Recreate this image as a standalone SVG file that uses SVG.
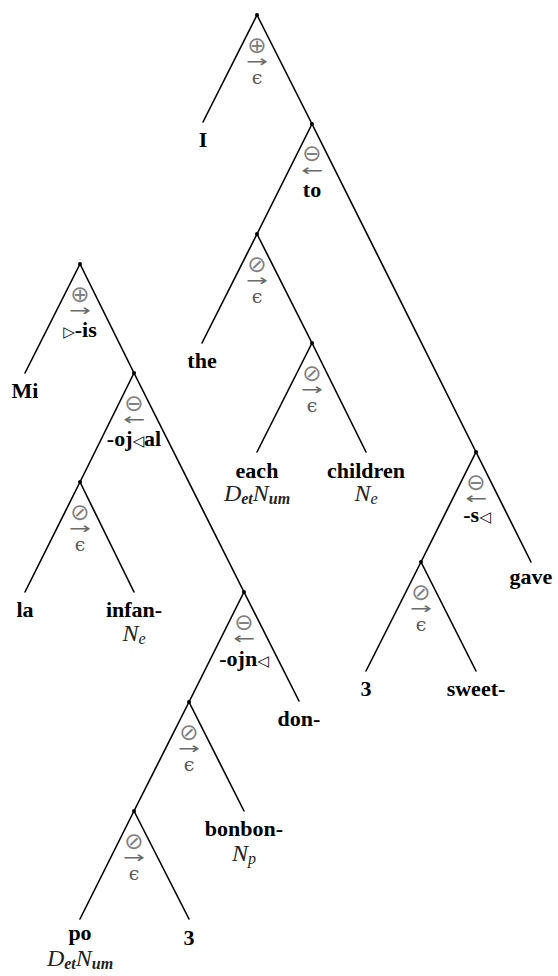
<svg xmlns="http://www.w3.org/2000/svg" width="558" height="976" viewBox="0 0 558 976">
<style>
.edge{stroke:#000;stroke-width:1.6;stroke-linecap:round;fill:none}
.dot{fill:#000}
.lbl{font-family:"Liberation Serif",serif;font-weight:bold;font-size:22px;fill:#000;text-anchor:middle}
.op{font-family:"DejaVu Sans",sans-serif;font-size:23px;fill:#808080;text-anchor:middle}
.arr{font-family:"DejaVu Sans",sans-serif;font-size:16px;fill:#6a6a6a}
.eps{font-family:"DejaVu Serif",serif;font-size:19px;fill:#5a5a5a;text-anchor:middle}
.tri{font-family:"DejaVu Sans",sans-serif;font-weight:normal;font-size:15px}
.ann{font-family:"Liberation Serif",serif;font-style:italic;font-size:24px;fill:#222;text-anchor:middle}
.sub{font-size:16px;font-weight:bold}
.sub2{font-size:16px}
</style>
<rect width="558" height="976" fill="#fff"/>
<g id="connectors">
<line class="edge" x1="257" y1="15" x2="203" y2="122"/>
<line class="edge" x1="257" y1="15" x2="312" y2="124"/>
<line class="edge" x1="312" y1="124" x2="257" y2="234"/>
<line class="edge" x1="312" y1="124" x2="476" y2="452"/>
<line class="edge" x1="257" y1="234" x2="202" y2="343"/>
<line class="edge" x1="257" y1="234" x2="312" y2="343"/>
<line class="edge" x1="312" y1="343" x2="257" y2="452"/>
<line class="edge" x1="312" y1="343" x2="366" y2="452"/>
<line class="edge" x1="476" y1="452" x2="421" y2="562"/>
<line class="edge" x1="476" y1="452" x2="531" y2="562"/>
<line class="edge" x1="421" y1="562" x2="366" y2="671"/>
<line class="edge" x1="421" y1="562" x2="476" y2="671"/>
<line class="edge" x1="80" y1="264" x2="25" y2="373"/>
<line class="edge" x1="80" y1="264" x2="134" y2="373"/>
<line class="edge" x1="134" y1="373" x2="80" y2="482"/>
<line class="edge" x1="134" y1="373" x2="244" y2="592"/>
<line class="edge" x1="80" y1="482" x2="25" y2="592"/>
<line class="edge" x1="80" y1="482" x2="134" y2="592"/>
<line class="edge" x1="244" y1="592" x2="189" y2="702"/>
<line class="edge" x1="244" y1="592" x2="299" y2="701"/>
<line class="edge" x1="189" y1="702" x2="134" y2="811"/>
<line class="edge" x1="189" y1="702" x2="244" y2="811"/>
<line class="edge" x1="134" y1="811" x2="80" y2="919"/>
<line class="edge" x1="134" y1="811" x2="189" y2="919"/>
</g>
<g id="n_root1">
<circle class="dot" cx="257" cy="15" r="2"/>
<text class="op" x="257" y="53">⊕</text>
<text class="arr" x="246" y="67" textLength="22" lengthAdjust="spacingAndGlyphs">→</text>
<text class="eps" x="257" y="84">ϵ</text>
</g>
<g id="n_to">
<circle class="dot" cx="312" cy="124" r="2"/>
<text class="op" x="312" y="161">⊖</text>
<text class="arr" x="301" y="176" textLength="22" lengthAdjust="spacingAndGlyphs">←</text>
<text class="lbl" x="312" y="197">to</text>
</g>
<g id="n_the_node">
<circle class="dot" cx="257" cy="234" r="2"/>
<text class="op" x="257" y="272">⊘</text>
<text class="arr" x="246" y="286" textLength="22" lengthAdjust="spacingAndGlyphs">→</text>
<text class="eps" x="257" y="303">ϵ</text>
</g>
<g id="n_each_node">
<circle class="dot" cx="312" cy="343" r="2"/>
<text class="op" x="312" y="381">⊘</text>
<text class="arr" x="301" y="395" textLength="22" lengthAdjust="spacingAndGlyphs">→</text>
<text class="eps" x="312" y="412">ϵ</text>
</g>
<g id="n_s">
<circle class="dot" cx="476" cy="452" r="2"/>
<text class="op" x="476" y="490">⊖</text>
<text class="arr" x="465" y="504" textLength="22" lengthAdjust="spacingAndGlyphs">←</text>
<text class="lbl" x="477" y="522">-s<tspan class="tri">◁</tspan></text>
</g>
<g id="n_sweet_node">
<circle class="dot" cx="421" cy="562" r="2"/>
<text class="op" x="421" y="600">⊘</text>
<text class="arr" x="410" y="614" textLength="22" lengthAdjust="spacingAndGlyphs">→</text>
<text class="eps" x="421" y="631">ϵ</text>
</g>
<g id="leaf_I"><text class="lbl" x="203" y="147">I</text></g>
<g id="leaf_the"><text class="lbl" x="202" y="368">the</text></g>
<g id="leaf_each"><text class="lbl" x="257" y="478">each</text>
<text class="ann" x="257" y="501">D<tspan class="sub" dy="3">et</tspan><tspan dy="-3">N</tspan><tspan class="sub" dy="3">um</tspan></text></g>
<g id="leaf_children"><text class="lbl" x="366" y="478">children</text>
<text class="ann" x="366" y="501" fill="#444">N<tspan class="sub2" dy="3">e</tspan></text></g>
<g id="leaf_gave"><text class="lbl" x="531" y="584">gave</text></g>
<g id="leaf_3a"><text class="lbl" x="366" y="696">3</text></g>
<g id="leaf_sweet"><text class="lbl" x="476" y="696">sweet-</text></g>
<g id="n_root2">
<circle class="dot" cx="80" cy="264" r="2"/>
<text class="op" x="80" y="302">⊕</text>
<text class="arr" x="69" y="316" textLength="22" lengthAdjust="spacingAndGlyphs">→</text>
<text class="lbl" x="80" y="337"><tspan class="tri">▷</tspan>-is</text>
</g>
<g id="n_ojal">
<circle class="dot" cx="134" cy="373" r="2"/>
<text class="op" x="134" y="411">⊖</text>
<text class="arr" x="123" y="425" textLength="22" lengthAdjust="spacingAndGlyphs">←</text>
<text class="lbl" x="134" y="446">-oj<tspan class="tri">◁</tspan>al</text>
</g>
<g id="n_la_node">
<circle class="dot" cx="80" cy="482" r="2"/>
<text class="op" x="80" y="520">⊘</text>
<text class="arr" x="69" y="534" textLength="22" lengthAdjust="spacingAndGlyphs">→</text>
<text class="eps" x="80" y="551">ϵ</text>
</g>
<g id="n_ojn">
<circle class="dot" cx="244" cy="592" r="2"/>
<text class="op" x="244" y="630">⊖</text>
<text class="arr" x="233" y="644" textLength="22" lengthAdjust="spacingAndGlyphs">←</text>
<text class="lbl" x="244" y="666">-ojn<tspan class="tri">◁</tspan></text>
</g>
<g id="n_bonbon_node">
<circle class="dot" cx="189" cy="702" r="2"/>
<text class="op" x="189" y="740">⊘</text>
<text class="arr" x="178" y="754" textLength="22" lengthAdjust="spacingAndGlyphs">→</text>
<text class="eps" x="189" y="771">ϵ</text>
</g>
<g id="n_po_node">
<circle class="dot" cx="134" cy="811" r="2"/>
<text class="op" x="134" y="849">⊘</text>
<text class="arr" x="123" y="863" textLength="22" lengthAdjust="spacingAndGlyphs">→</text>
<text class="eps" x="134" y="880">ϵ</text>
</g>
<g id="leaf_Mi"><text class="lbl" x="25" y="398">Mi</text></g>
<g id="leaf_la"><text class="lbl" x="25" y="617">la</text></g>
<g id="leaf_infan"><text class="lbl" x="134" y="617">infan-</text>
<text class="ann" x="134" y="641" fill="#444">N<tspan class="sub2" dy="3">e</tspan></text></g>
<g id="leaf_don"><text class="lbl" x="299" y="726">don-</text></g>
<g id="leaf_bonbon"><text class="lbl" x="244" y="836">bonbon-</text>
<text class="ann" x="244" y="861" fill="#444">N<tspan class="sub2" dy="3">p</tspan></text></g>
<g id="leaf_po"><text class="lbl" x="80" y="940">po</text>
<text class="ann" x="80" y="966">D<tspan class="sub" dy="3">et</tspan><tspan dy="-3">N</tspan><tspan class="sub" dy="3">um</tspan></text></g>
<g id="leaf_3b"><text class="lbl" x="189" y="945">3</text></g>
</svg>
